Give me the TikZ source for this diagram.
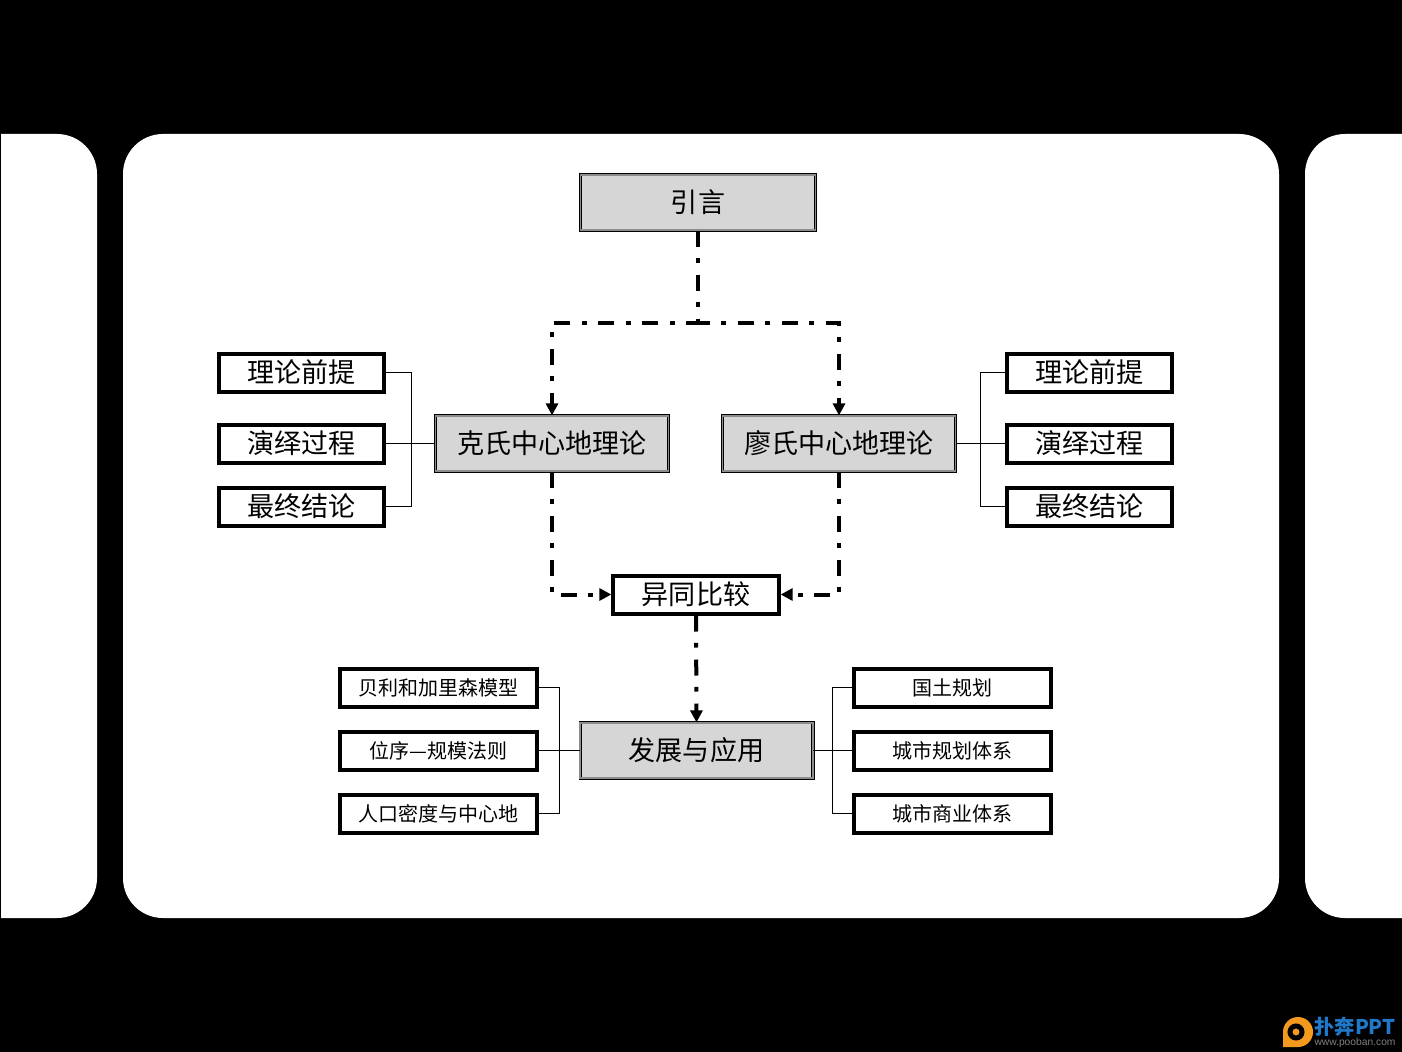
\documentclass[tikz,border=0pt]{standalone}
\usepackage{fontspec}
\setmainfont{Noto Sans CJK SC}
\newfontfamily\urlfont{Liberation Sans}
\usetikzlibrary{arrows.meta,positioning}
\definecolor{colBox}{HTML}{D6D6D6}
\definecolor{colEdge}{HTML}{8C8C8C}
\definecolor{colLogo}{HTML}{F39A1E}
\definecolor{colMark}{HTML}{1F78C8}
\tikzset{
  mainbox/.style={draw=black,double=colEdge,line width=.6pt,double distance=1.2pt,fill=colBox,
    minimum width=174.6pt,minimum height=41.5pt,inner sep=0pt,font=\fontsize{20.3}{24}\selectfont},
  leafbox/.style={draw=black,line width=3pt,fill=white,minimum width=124pt,minimum height=28.5pt,
    inner sep=0pt,font=\fontsize{20.3}{24}\selectfont},
  subbox/.style={leafbox,minimum width=147.5pt,font=\fontsize{15}{18}\selectfont},
  flowarr/.style={line width=3pt,dash pattern=on 12pt off 8.5pt on 3.5pt off 9pt,
    -{Triangle[length=9pt,width=9pt]}},
  linkln/.style={draw=black,line width=.75pt},
  panel/.style={fill=white,rounded corners=30pt},
}
\begin{document}
\begin{tikzpicture}[x=.75pt,y=-.75pt]
  \useasboundingbox (0,0) rectangle (1402,1052);
  \fill[black] (0,0) rectangle (1402,1052);
  \fill[panel] (123,134) rectangle (1279,918);
  \fill[white] (1,134) [rounded corners=30pt] -- (97,134) -- (97,918) [sharp corners] -- (1,918) -- cycle;
  \fill[white] (1402,134) [rounded corners=30pt] -- (1305,134) -- (1305,918) [sharp corners] -- (1402,918) -- cycle;

  \node[mainbox,minimum width=176.4pt] (intro) at (698,202.5) {引言};
  \node[mainbox] (kl) at (552,443.5) {克氏中心地理论};
  \node[mainbox] (ls) at (839,443.5) {廖氏中心地理论};
  \node[leafbox] (cmp) at (696,594.5) {异同比较};
  \node[mainbox] (dev) at (696.5,750.5) {发展与应用};

  % left group
  \node[leafbox,left=37pt of kl] (k2) {演绎过程};
  \node[leafbox,above=21.75pt of k2] (k1) {理论前提};
  \node[leafbox,below=15.75pt of k2] (k3) {最终结论};
  % right group
  \node[leafbox,right=36.75pt of ls] (l2) {演绎过程};
  \node[leafbox,above=21.75pt of l2] (l1) {理论前提};
  \node[leafbox,below=15.75pt of l2] (l3) {最终结论};
  % bottom groups
  \node[subbox,left=30.75pt of dev] (d2) {位序—规模法则};
  \node[subbox,above=15.75pt of d2] (d1) {贝利和加里森模型};
  \node[subbox,below=15.75pt of d2] (d3) {人口密度与中心地};
  \node[subbox,right=29.25pt of dev] (a2) {城市规划体系};
  \node[subbox,above=15.75pt of a2] (a1) {国土规划};
  \node[subbox,below=15.75pt of a2] (a3) {城市商业体系};

  \draw[flowarr] (intro.south) -- ++(0,92) -| (kl.north);
  \draw[flowarr] (intro.south) -- ++(0,92) -| (ls.north);
  \draw[flowarr] (kl.south) |- (cmp.west);
  \draw[flowarr] (ls.south) |- (cmp.east);
  \draw[flowarr] (cmp.south) -- (dev.north);

  \draw[linkln] (k1.east) -- ++(26,0) |- (k3.east);
  \draw[linkln] (k2.east) -- (kl.west);
  \draw[linkln] (l1.west) -- ++(-24,0) |- (l3.west);
  \draw[linkln] (l2.west) -- (ls.east);
  \draw[linkln] (d1.east) -- ++(21,0) |- (d3.east);
  \draw[linkln] (d2.east) -- (dev.west);
  \draw[linkln] (a1.west) -- ++(-20,0) |- (a3.west);
  \draw[linkln] (a2.west) -- (dev.east);

  % watermark
  \fill[colLogo] (1283,1047) -- (1283,1032) arc[start angle=180,end angle=-90,radius=11.25pt] -- cycle;
  \fill[black] (1296,1032) circle[radius=6.4pt];
  \fill[colLogo] (1296,1032) circle[radius=2.6pt];
  \node[inner sep=0pt,text=colMark,font=\fontsize{15.2}{15.2}\selectfont\bfseries] (mark) at (1355,1027) {扑奔PPT};
  \node[inner sep=0pt,text=gray,font=\urlfont\fontsize{7.7}{7.7}\selectfont,below=1pt of mark] (url) {www.pooban.com};
\end{tikzpicture}
\end{document}
